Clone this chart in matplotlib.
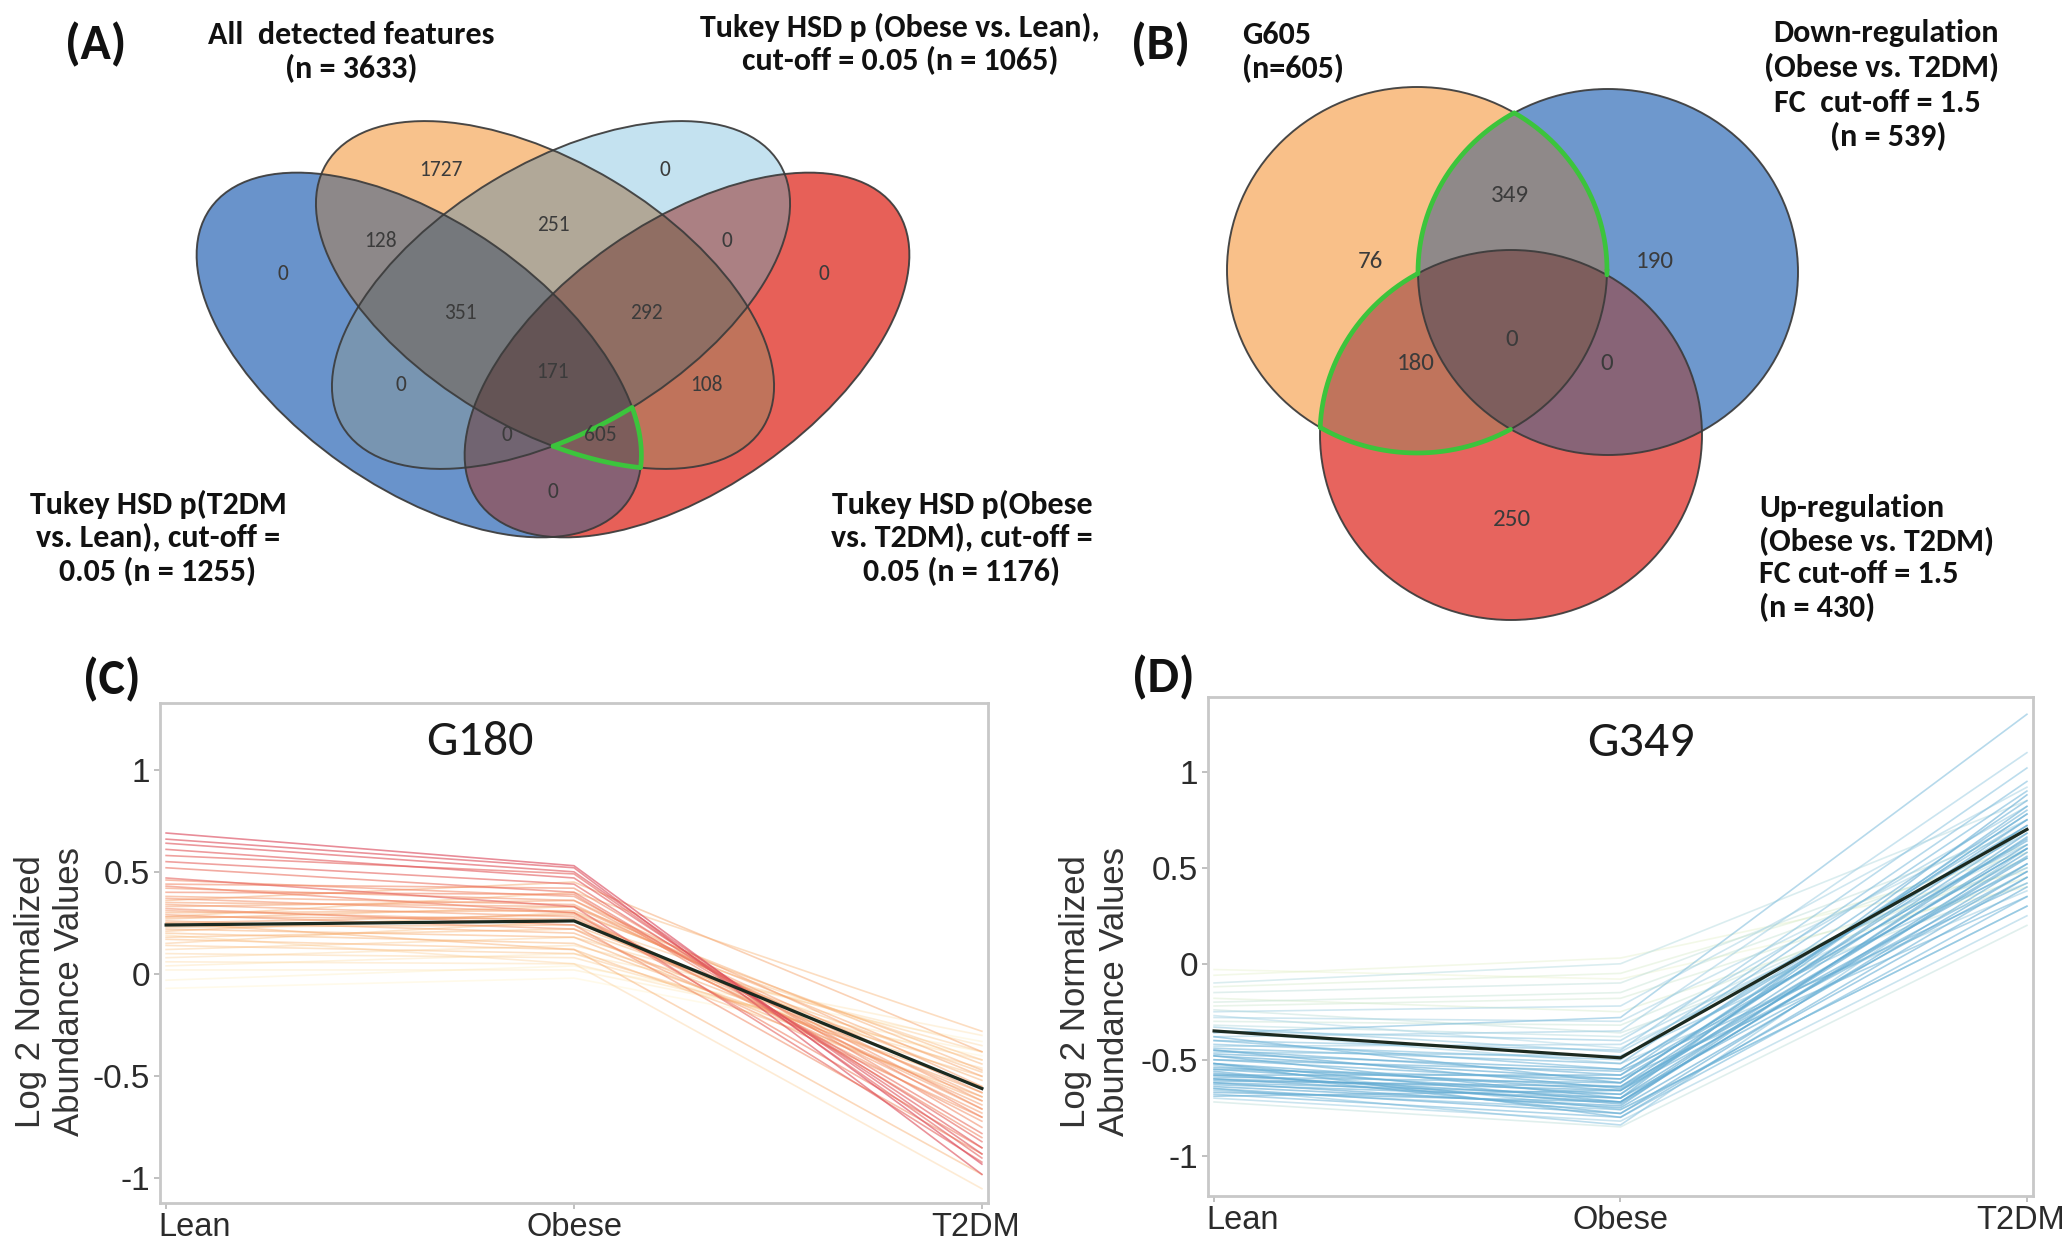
import numpy as np
import matplotlib
matplotlib.use("Agg")
import matplotlib.pyplot as plt
from matplotlib import font_manager
from matplotlib.patches import Ellipse
from matplotlib.colors import LinearSegmentedColormap, to_rgb
from matplotlib.transforms import ScaledTranslation

# ---------------- data ----------------
# (A) 4-set Venn, membership bits = (T2DM vs Lean, All detected, Obese vs Lean, Obese vs T2DM)
venn4_regions = ['1000', '0100', '0010', '0001', '1100', '0110', '0011', '1010',
                 '0101', '1001', '1110', '0111', '1101', '1011', '1111']
venn4_counts = [0, 1727, 0, 0, 128, 251, 0, 0, 108, 0, 351, 292, 605, 0, 171]

# (B) 3-set Venn, membership bits = (G605, Down-regulation, Up-regulation)
venn3_regions = ['100', '010', '001', '110', '101', '011', '111']
venn3_counts = [76, 190, 250, 349, 180, 0, 0]

groups = ['Lean', 'Obese', 'T2DM']
yticks = [-1, -0.5, 0, 0.5, 1]

# (C) G180 profiles (log2 normalized abundance) + membership used for colour
g180_lean = [0.69, 0.66, 0.64, 0.61, 0.58, 0.55, 0.52, 0.47, 0.46, 0.44, 0.42, 0.40,
             0.38, 0.37, 0.35, 0.34, 0.33, 0.31, 0.30, 0.29, 0.28, 0.27, 0.26, 0.25,
             0.23, 0.22, 0.21, 0.20, 0.18, 0.17, 0.15, 0.14, 0.12, 0.10, 0.08, 0.06,
             0.04, 0.02, -0.03, -0.07, 0.36, 0.28, 0.19, 0.25, 0.32, 0.43]
g180_obese = [0.53, 0.52, 0.50, 0.47, 0.49, 0.44, 0.40, 0.33, 0.38, 0.42, 0.36, 0.39,
              0.34, 0.30, 0.33, 0.28, 0.36, 0.26, 0.31, 0.22, 0.27, 0.33, 0.20, 0.29,
              0.24, 0.18, 0.30, 0.15, 0.22, 0.12, 0.26, 0.10, 0.18, 0.08, 0.14, 0.05,
              0.10, 0.02, 0.04, -0.02, 0.45, 0.40, 0.05, 0.12, 0.24, 0.30]
g180_t2dm = [-0.93, -0.98, -0.88, -0.85, -0.90, -0.82, -0.78, -0.92, -0.70, -0.75, -0.66, -0.80,
             -0.62, -0.72, -0.58, -0.68, -0.55, -0.64, -0.50, -0.70, -0.60, -0.47, -0.58, -0.66,
             -0.52, -0.62, -0.44, -0.55, -0.48, -0.60, -0.42, -0.50, -0.38, -0.46, -0.35, -0.42,
             -0.30, -0.38, -0.33, -0.40, -0.38, -0.28, -1.05, -0.98, -0.88, -0.85]
g180_member = [0.95, 0.92, 0.90, 0.88, 0.85, 0.85, 0.80, 0.85, 0.70, 0.70, 0.65, 0.72,
               0.62, 0.66, 0.60, 0.62, 0.58, 0.60, 0.55, 0.62, 0.58, 0.52, 0.55, 0.58,
               0.50, 0.52, 0.48, 0.48, 0.45, 0.45, 0.40, 0.40, 0.35, 0.32, 0.28, 0.25,
               0.20, 0.15, 0.10, 0.05, 0.55, 0.45, 0.30, 0.50, 0.68, 0.75]
g180_centroid = [0.24, 0.26, -0.56]

# (D) G349 profiles
g349_lean = [-0.60, -0.62, -0.58, -0.55, -0.65, -0.52, -0.50, -0.48, -0.68, -0.57,
             -0.45, -0.54, -0.63, -0.47, -0.60, -0.66, -0.44, -0.52, -0.59, -0.70,
             -0.72, -0.42, -0.40, -0.38, -0.36, -0.35, -0.32, -0.30, -0.28, -0.25,
             -0.22, -0.20, -0.18, -0.15, -0.12, -0.10, -0.06, -0.03, -0.46, -0.50,
             -0.55, -0.43, -0.48, -0.64, -0.56, -0.62, -0.53, -0.67, -0.40, -0.33,
             -0.27, -0.61, -0.58, -0.69, -0.45, -0.38, -0.52, -0.35, -0.24, -0.65]
g349_obese = [-0.72, -0.75, -0.70, -0.68, -0.78, -0.66, -0.62, -0.60, -0.80, -0.73,
              -0.58, -0.64, -0.70, -0.55, -0.66, -0.76, -0.52, -0.72, -0.62, -0.82,
              -0.85, -0.50, -0.45, -0.35, -0.28, -0.40, -0.38, -0.32, -0.30, -0.22,
              -0.18, -0.15, -0.25, -0.10, -0.05, 0.00, 0.03, -0.08, -0.48, -0.56,
              -0.60, -0.42, -0.70, -0.74, -0.78, -0.68, -0.76, -0.72, -0.55, -0.46,
              -0.44, -0.64, -0.58, -0.66, -0.65, -0.62, -0.80, -0.52, -0.36, -0.84]
g349_t2dm = [0.55, 0.48, 0.62, 0.70, 0.40, 0.75, 0.80, 0.65, 0.35, 0.58,
             0.85, 0.52, 0.45, 0.72, 0.60, 0.30, 0.90, 0.66, 0.78, 0.25,
             0.20, 0.95, 1.02, 1.10, 1.30, 0.82, 0.60, 0.55, 0.75, 0.92,
             0.50, 0.62, 0.45, 0.70, 0.58, 0.85, 0.48, 0.40, 0.50, 0.42,
             0.35, 0.62, 0.88, 0.68, 0.52, 0.82, 0.30, 0.56, 0.75, 0.68,
             0.55, 0.72, 0.64, 0.48, 0.60, 0.78, 0.45, 0.38, 0.42, 0.60]
g349_member = [0.95, 0.92, 0.95, 0.90, 0.88, 0.90, 0.85, 0.92, 0.80, 0.95,
               0.85, 0.90, 0.88, 0.88, 0.92, 0.75, 0.80, 0.93, 0.85, 0.60,
               0.40, 0.75, 0.70, 0.60, 0.75, 0.65, 0.45, 0.35, 0.55, 0.55,
               0.30, 0.35, 0.25, 0.40, 0.25, 0.45, 0.15, 0.10, 0.70, 0.85,
               0.80, 0.60, 0.90, 0.92, 0.90, 0.88, 0.70, 0.90, 0.80, 0.65,
               0.50, 0.95, 0.90, 0.85, 0.92, 0.85, 0.85, 0.60, 0.40, 0.70]
g349_centroid = [-0.35, -0.49, 0.70]

# ---------------- layout (figure pixels, y down) ----------------
W, H = 2070, 1242
venn4_shapes = [((419, 355), 510, 266, 35),    # T2DM vs Lean
                ((545, 295), 510, 266, 31),    # all detected
                ((561, 295), 510, 266, -31),   # Obese vs Lean
                ((687, 355), 510, 266, -35)]   # Obese vs T2DM
venn4_colors = ['#6a93cb', '#f8c28c', '#c4e2f0', '#e86058']
venn4_pos = {'1000': (283, 274), '0100': (441, 170), '0010': (665, 170), '0001': (824, 274),
             '1100': (381, 241), '0110': (553, 225), '0011': (727, 241), '1010': (401, 385),
             '0101': (706, 385), '1001': (553, 492), '1110': (460, 313), '0111': (646, 313),
             '1101': (600, 435), '1011': (507, 435), '1111': (553, 372)}

venn3_shapes = [((1417, 270), 380, 366, 0),    # G605
                ((1608, 272), 380, 366, 0),    # down
                ((1511, 435), 382, 370, 0)]    # up
venn3_colors = ['#f9c08a', '#6e98cd', '#e8645e']
venn3_pos = {'100': (1370, 262), '010': (1655, 262), '001': (1512, 519), '110': (1510, 196),
             '101': (1416, 364), '011': (1607, 364), '111': (1512, 340)}

# x-label alignment and horizontal nudge (px) per group, as in the source figure
xlab_align = [('left', -8), ('center', 0), ('right', 38)]

GREEN = '#3cc43c'

names = {f.name for f in font_manager.fontManager.ttflist}


def pick(*cands):
    for c in cands:
        if c in names:
            return c
    return 'DejaVu Sans'


CAL = pick('Carlito', 'Lato', 'Open Sans')
ARIAL = pick('Liberation Sans', 'Arial')


def inside(X, Y, e):
    (cx, cy), w, h, ang = e
    t = np.deg2rad(ang)
    dx, dy = X - cx, Y - cy
    u = dx * np.cos(t) + dy * np.sin(t)
    v = -dx * np.sin(t) + dy * np.cos(t)
    return (u / (w / 2)) ** 2 + (v / (h / 2)) ** 2 <= 1.0


def venn_fill(ax, shapes, colors, box, dark=0.8):
    x0, x1, y0, y1 = box
    X, Y = np.meshgrid(np.arange(x0, x1, 0.5) + 0.25, np.arange(y0, y1, 0.5) + 0.25)
    masks = [inside(X, Y, e) for e in shapes]
    k = sum(m.astype(float) for m in masks)[..., None]
    rgb = sum(m[..., None] * np.array(to_rgb(c)) for m, c in zip(masks, colors))
    kk = np.maximum(k, 1)
    rgb = rgb / kk * dark ** (kk - 1)
    img = np.concatenate([rgb, (k > 0).astype(float)], axis=2)
    ax.imshow(img, extent=(x0, x1, y1, y0), interpolation='antialiased', zorder=1)
    for (c, w, h, a) in shapes:
        ax.add_patch(Ellipse(c, w, h, angle=a, fill=False, ec='#3a3a3a', lw=1.4, alpha=0.9, zorder=2))


def edge(e, n=4000):
    (cx, cy), w, h, ang = e
    t = np.linspace(0, 2 * np.pi, n)
    a = np.deg2rad(ang)
    u, v = w / 2 * np.cos(t), h / 2 * np.sin(t)
    return cx + u * np.cos(a) - v * np.sin(a), cy + u * np.sin(a) + v * np.cos(a)


def green(ax, e, keep):
    x, y = edge(e)
    ax.plot(np.where(keep(x, y), x, np.nan), y, color=GREEN, lw=3.4, zorder=3,
            solid_capstyle='round')


fig = plt.figure(figsize=(W / 100, H / 100), dpi=100)
bg = fig.add_axes([0, 0, 1, 1])
bg.axis('off')

title_kw = dict(family=CAL, fontweight='bold', fontsize=23, color='#111111', ha='center',
                va='center', multialignment='center')
left_kw = dict(title_kw, ha='left', multialignment='left')
panel_kw = dict(family=CAL, fontweight='bold', fontsize=36, ha='center', va='center', color='#111111')

# ---- (A) ----
venn_fill(bg, venn4_shapes, venn4_colors, (170, 940, 100, 560))
sB, sO, sL, sR = venn4_shapes
green(bg, sL, lambda x, y: inside(x, y, sB) & inside(x, y, sO) & inside(x, y, sR))
green(bg, sB, lambda x, y: inside(x, y, sO) & inside(x, y, sR) & ~inside(x, y, sL))
green(bg, sO, lambda x, y: inside(x, y, sB) & inside(x, y, sR) & ~inside(x, y, sL))
for reg, n in zip(venn4_regions, venn4_counts):
    x, y = venn4_pos[reg]
    bg.text(x, y, str(n), ha='center', va='center', fontsize=15.5, family=CAL, color='#3b3b3b', zorder=4)

bg.text(96, 45, '(A)', **panel_kw)
bg.text(351, 52, 'All  detected features\n(n = 3633)', **title_kw)
bg.text(900, 44, 'Tukey HSD p (Obese vs. Lean),\ncut-off = 0.05 (n = 1065)', **title_kw)
bg.text(158, 538, 'Tukey HSD p(T2DM\nvs. Lean), cut-off =\n0.05 (n = 1255)', **title_kw)
bg.text(962, 538, 'Tukey HSD p(Obese\nvs. T2DM), cut-off =\n0.05 (n = 1176)', **title_kw)

# ---- (B) ----
venn_fill(bg, venn3_shapes, venn3_colors, (1210, 1820, 70, 640))
tO, tB, tR = venn3_shapes
green(bg, tB, lambda x, y: inside(x, y, tO) & ~inside(x, y, tR))
green(bg, tO, lambda x, y: inside(x, y, tB) != inside(x, y, tR))
green(bg, tR, lambda x, y: inside(x, y, tO) & ~inside(x, y, tB))
for reg, n in zip(venn3_regions, venn3_counts):
    x, y = venn3_pos[reg]
    bg.text(x, y, str(n), ha='center', va='center', fontsize=18, family=CAL, color='#3b3b3b', zorder=4)

bg.text(1160, 45, '(B)', **panel_kw)
bg.text(1242, 52, 'G605\n(n=605)', **left_kw)
bg.text(1886, 33, 'Down-regulation', **title_kw)
bg.text(1882, 68, '(Obese vs. T2DM)', **title_kw)
bg.text(1774, 103, 'FC  cut-off = 1.5', **left_kw)
bg.text(1888, 137, '(n = 539)', **title_kw)
bg.text(1759, 558, 'Up-regulation\n(Obese vs. T2DM)\nFC cut-off = 1.5\n(n = 430)', **left_kw)

bg.set_xlim(0, W)
bg.set_ylim(H, 0)
bg.set_aspect('auto')

# ---- (C), (D) ----
cmap_c = LinearSegmentedColormap.from_list('g180', ['#fff7c4', '#fdd7a0', '#f8ae70', '#ef7a5e', '#d63e5c'])
cmap_d = LinearSegmentedColormap.from_list('g349', ['#eef3b8', '#d2e9c4', '#a8d4e4', '#7dbcdc', '#5aa6d0'])


def px_axes(l, t, r, b):
    return fig.add_axes([l / W, 1 - b / H, (r - l) / W, (b - t) / H])


def profile_panel(box, ylim, lean, obese, t2dm, member, centroid, cmap):
    ax = px_axes(*box)
    order = np.argsort(member)
    for i in order:
        m = member[i]
        ax.plot([0, 1, 2], [lean[i], obese[i], t2dm[i]], color=cmap(m),
                alpha=0.3 + 0.35 * m, lw=1.2, zorder=2)
    ax.plot([0, 1, 2], centroid, color='#1c2a20', lw=2.3, zorder=3)
    ax.set_xlim(-0.015, 2.015)
    ax.set_ylim(*ylim)
    ax.set_xticks(range(len(groups)))
    ax.set_xticklabels([])
    for i, (g, (ha, dx)) in enumerate(zip(groups, xlab_align)):
        tr = ax.get_xaxis_transform() + ScaledTranslation(dx / 100, -9 / 100, fig.dpi_scale_trans)
        ax.text(i, 0, g, transform=tr, ha=ha, va='top', family=ARIAL, fontsize=23.5,
                color='#2b2b2b', clip_on=False)
    ax.set_yticks(yticks)
    ax.set_yticklabels(['-1', '-0.5', '0', '0.5', '1'], family=ARIAL, fontsize=24)
    ax.tick_params(colors='#b5b5b5', labelcolor='#2b2b2b', length=4, width=1.2)
    ax.tick_params(axis='y', pad=3)
    for s in ax.spines.values():
        s.set_color('#c8c8c8')
        s.set_linewidth(2)
    return ax


profile_panel((160, 703, 988, 1203), (-1.12, 1.326), g180_lean, g180_obese, g180_t2dm,
              g180_member, g180_centroid, cmap_c)
profile_panel((1208, 697, 2033, 1196), (-1.21, 1.39), g349_lean, g349_obese, g349_t2dm,
              g349_member, g349_centroid, cmap_d)

ylab = 'Log 2 Normalized\nAbundance Values'
for xl in (50, 1095):
    fig.text(xl / W, 1 - 992 / H, ylab, rotation=90, ha='center', va='center',
             family=ARIAL, fontsize=25, color='#333333', multialignment='center')
fig.text(112 / W, 1 - 680 / H, '(C)', **panel_kw)
fig.text(1163 / W, 1 - 678 / H, '(D)', **panel_kw)
fig.text(480 / W, 1 - 742 / H, 'G180', family=CAL, fontsize=36, ha='center', va='center', color='#1a1a1a')
fig.text(1641 / W, 1 - 743 / H, 'G349', family=CAL, fontsize=36, ha='center', va='center', color='#1a1a1a')

fig.savefig('out.png', dpi=100, facecolor='white')
